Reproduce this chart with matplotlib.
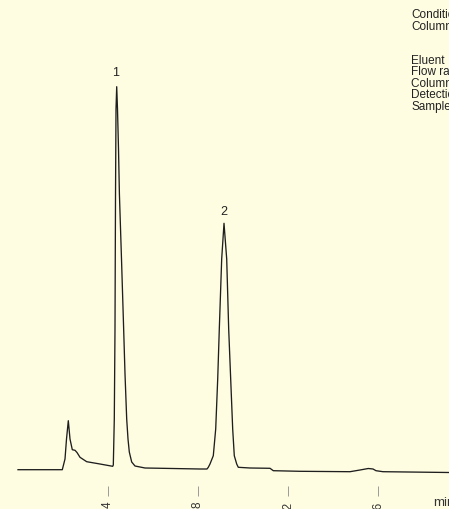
import matplotlib
matplotlib.use("Agg")
import matplotlib.pyplot as plt

plt.rcParams['font.family'] = ['Liberation Sans', 'DejaVu Sans']

# Chromatogram trace (time in min, signal in arbitrary units)
time_min = [0.000, 1.969, 2.089, 2.156, 2.236, 2.311, 2.413, 2.533, 2.622, 2.756,
            3.053, 3.644, 4.209, 4.236, 4.280, 4.311, 4.333, 4.356, 4.387, 4.422,
            4.467, 4.507, 4.600, 4.689, 4.756, 4.831, 4.889, 4.947, 5.053, 5.200,
            5.644, 8.089, 8.400, 8.458, 8.533, 8.680, 8.787, 8.876, 8.947, 9.053,
            9.156, 9.276, 9.364, 9.453, 9.542, 9.613, 9.720, 9.791, 10.311, 11.200,
            11.347, 12.533, 14.756, 15.200, 15.569, 15.778, 15.911, 16.222, 19.156]
signal = [0.0, 0.0, 10.7, 30.7, 49.0, 30.7, 20.0, 19.4, 17.2, 12.4,
          8.0, 5.7, 3.4, 4.7, 50.7, 140.7, 270.7, 360.7, 383.0, 360.7,
          320.7, 275.7, 210.7, 145.7, 95.7, 50.7, 30.7, 17.7, 7.7, 3.7,
          1.7, 0.7, 0.7, 2.4, 5.7, 14.0, 40.7, 90.7, 140.7, 210.7,
          246.4, 210.7, 140.7, 90.7, 40.7, 14.0, 5.7, 2.4, 1.7, 1.4,
          -1.0, -1.6, -2.0, -0.3, 1.2, 0.7, -1.0, -2.0, -2.8]

peak_labels = ["1", "2"]
peak_times = [4.33, 9.156]
peak_label_heights = [397.4, 259.0]

tick_values = [4, 8, 12, 16]
tick_labels = ["4", "8", "12", "16"]

condition_lines = ["Conditions", "Column", "Eluent", "Flow rate",
                   "Column temp.", "Detection", "Sample"]
condition_y_px = [15, 27, 61, 72.5, 84, 95.5, 107]

W, H = 449, 510
bg = '#FFFDE1'
fig = plt.figure(figsize=(W / 100, H / 100), dpi=100, facecolor=bg)
ax = fig.add_axes([0, 23 / H, 1, 487 / H])
ax.set_facecolor(bg)
ax.plot(time_min, signal, color='#1e1e1e', lw=0.95, solid_joinstyle='round')
ax.set_xlim(-0.8, 19.156)
ax.set_ylim(-16.3, 470.7)
for s in ax.spines.values():
    s.set_visible(False)
ax.set_yticks([])
ax.set_xticks(tick_values)
ax.set_xticklabels(tick_labels, rotation=90, fontsize=8.5, color='#333333')
ax.tick_params(axis='x', direction='out', length=7.2, width=0.7,
               color='#9a9a9a', pad=3.3)

for lab, t, h in zip(peak_labels, peak_times, peak_label_heights):
    ax.text(t, h, lab, ha='center', va='center', fontsize=9, color='#222222')

for line, ypx in zip(condition_lines, condition_y_px):
    fig.text(411 / W, 1 - ypx / H, line, ha='left', va='center',
             fontsize=8.5, color='#222222')

fig.text(433 / W, 1 - 503 / H, "min", ha='left', va='center',
         fontsize=9.5, color='#333333')

fig.savefig('out.png', dpi=100, facecolor=bg)
